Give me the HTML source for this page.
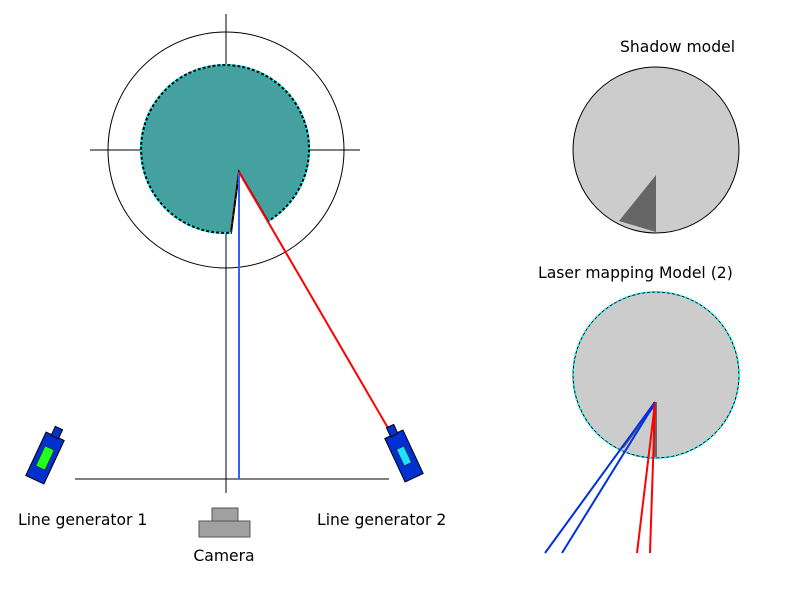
<!DOCTYPE html>
<html><head><style>body{margin:0;background:#fff}svg{display:block}text{font-family:"DejaVu Sans","Liberation Sans",sans-serif;font-size:15.6px;fill:#000}</style></head><body>
<svg width="800" height="611" viewBox="0 0 800 611">
<circle cx="226" cy="150" r="118" fill="none" stroke="#000" stroke-width="1"/>
<line x1="226" y1="14" x2="226" y2="493" stroke="#000"/>
<line x1="90" y1="150" x2="360" y2="150" stroke="#000"/>
<path d="M239,172 L231,232.8 A84 84 0 1 1 268,221.2 Z" fill="#45a19f" stroke="#000" stroke-width="2"/>
<path d="M231,232.8 A84 84 0 1 1 268,221.2" fill="none" stroke="#00ffff" stroke-width="2" stroke-dasharray="2 3"/>
<line x1="231" y1="232" x2="239" y2="172" stroke="#ff0000" stroke-width="1" stroke-dasharray="2 6"/>
<line x1="75" y1="479" x2="389" y2="479" stroke="#000"/>
<line x1="239" y1="172" x2="239" y2="479" stroke="#3060ff" stroke-width="2"/>
<line x1="239" y1="172" x2="388" y2="428" stroke="#ff0000" stroke-width="2"/>
<g transform="translate(45,458) rotate(25)">
<rect x="-10" y="-24" width="20" height="48" fill="#0030d0" stroke="#000"/>
<rect x="-4" y="-33" width="8" height="10" fill="#0030d0" stroke="#000"/>
<rect x="-5" y="-11" width="10" height="22" fill="#20ff20" stroke="#000" stroke-width="0.5"/>
</g>
<g transform="translate(404,456) rotate(-25)">
<rect x="-10" y="-24" width="20" height="48" fill="#0030d0" stroke="#000"/>
<rect x="-4" y="-33" width="8" height="10" fill="#0030d0" stroke="#000"/>
<rect x="-4" y="-9" width="8" height="18" fill="#20e0ff" stroke="#000" stroke-width="0.5"/>
</g>
<rect x="212" y="508" width="26" height="13" fill="#a0a0a0" stroke="#555"/>
<rect x="199" y="521" width="51" height="16" fill="#a0a0a0" stroke="#555"/>
<text x="18" y="525">Line generator 1</text>
<text x="224" y="561" text-anchor="middle">Camera</text>
<text x="317" y="525">Line generator 2</text>
<text x="620" y="52">Shadow model</text>
<circle cx="656" cy="150" r="83" fill="#cccccc" stroke="#000"/>
<path d="M656,175 L619,221 Q636,226 656,232 Z" fill="#666"/>
<text x="538" y="278">Laser mapping Model (2)</text>
<circle cx="656" cy="375" r="83" fill="#cccccc" stroke="#000" stroke-width="1"/>
<circle cx="656" cy="375" r="83" fill="none" stroke="#00ffff" stroke-width="2" stroke-dasharray="2 3"/>
<path d="M656,402 L620,448 L624,448 L656,405 Z" fill="#666"/>
<rect x="653" y="402" width="4" height="55" fill="#666"/>
<line x1="655" y1="402" x2="545" y2="553" stroke="#0030e0" stroke-width="2"/>
<line x1="655" y1="403" x2="562" y2="553" stroke="#0030e0" stroke-width="2"/>
<line x1="655" y1="403" x2="637" y2="553" stroke="#ff0000" stroke-width="2"/>
<line x1="655" y1="403" x2="650" y2="553" stroke="#ff0000" stroke-width="2"/>
</svg>
</body></html>
